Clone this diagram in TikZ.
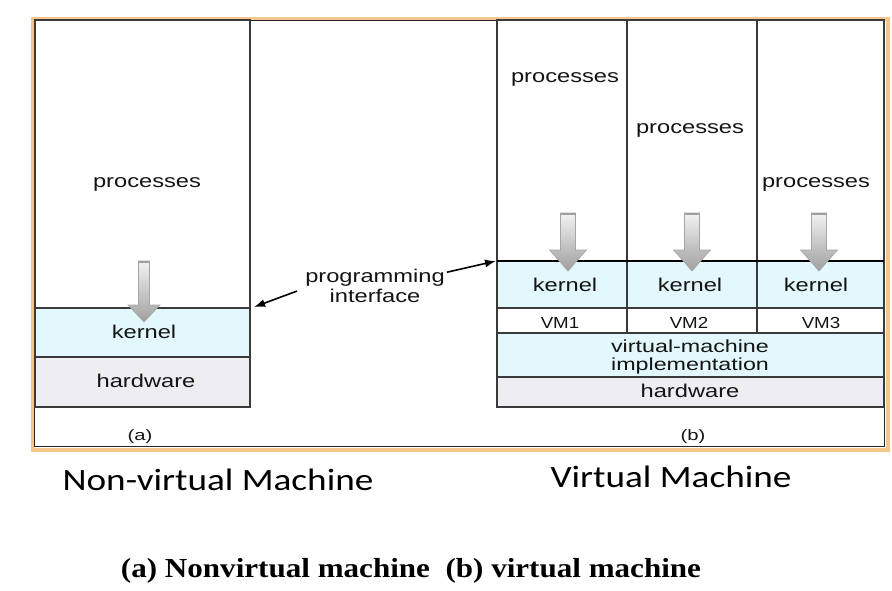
\documentclass[tikz,border=0pt]{standalone}
\usepackage{graphicx}
\usepackage{fontspec}
\setmainfont{Liberation Sans}
\newfontfamily\capfont{Carlito}
\newfontfamily\serifcap{Liberation Serif}
\usetikzlibrary{arrows.meta}
\definecolor{kern}{HTML}{E2F8FC}
\definecolor{hw}{HTML}{EEEEF2}
\definecolor{frameorange}{HTML}{F5C68C}
\definecolor{edge}{HTML}{3A3A3A}
\newcommand\wide[1]{\scalebox{1.28}[1]{#1}}
\newcommand\fatarr[7]{% name, cx, ytop, yhead, ytip, half shaft, half head
  \path[fatstyle] (#2-#6,#3) -- (#2+#6,#3) -- (#2+#6,#4) -- (#2+#7,#4) -- (#2,#5)
     -- (#2-#7,#4) -- (#2-#6,#4) -- cycle;
  \draw[line width=2pt, gray!75] (#2-#6,#3+1) -- (#2+#6,#3+1);
  \coordinate (#1) at (#2,#5);}
\tikzset{
  box/.style={draw=edge, line width=1.5pt, anchor=north west, inner sep=0pt, outer sep=0pt},
  lbl/.style={font=\fontsize{18.5}{15}\selectfont, inner sep=0pt, anchor=base, text=black!92},
  vmlbl/.style={font=\fontsize{16}{18}\selectfont, inner sep=0pt, anchor=base, text=black!92},
  fatstyle/.style={draw=gray!70, line width=0.6pt, top color=gray!10, bottom color=gray!75},
  ptr/.style={-{Latex[length=11pt,width=8pt]}, line width=1.6pt, black}
}
\begin{document}
\begin{tikzpicture}[x=1pt,y=-1pt]
\useasboundingbox (0,0) rectangle (892,590);
% frame
\node[draw=frameorange, line width=4pt, anchor=north west, minimum width=855pt, minimum height=431pt, inner sep=0pt] (frameo) at (31,17) {};
\node[draw=black!85, line width=1.5pt, anchor=north west, minimum width=850pt, minimum height=426pt, inner sep=0pt] (framei) at (33.5,19.5) {};
% left stack
\node[box, minimum width=215pt, minimum height=288pt] (lp) at (35,20) {};
\node[box, fill=kern, minimum width=215pt, minimum height=49pt] (lk) at (35,308) {};
\node[box, fill=hw, minimum width=215pt, minimum height=50pt] (lh) at (35,357) {};
\node[lbl] (lpt) at (147,187) {\wide{processes}};
\node[lbl] (lkt) at (144,338) {\wide{kernel}};
\node[lbl] (lht) at (146,387) {\wide{hardware}};
% right stack
\node[box, minimum width=130pt, minimum height=241pt] (p1) at (497,20) {};
\node[box, minimum width=130pt, minimum height=241pt] (p2) at (627,20) {};
\node[box, minimum width=127pt, minimum height=241pt] (p3) at (757,20) {};
\node[lbl] (p1t) at (565,82) {\wide{processes}};
\node[lbl] (p2t) at (690,133) {\wide{processes}};
\node[lbl] (p3t) at (816,187) {\wide{processes}};
\node[box, fill=kern, minimum width=130pt, minimum height=47pt] (k1) at (497,261) {};
\node[box, fill=kern, minimum width=130pt, minimum height=47pt] (k2) at (627,261) {};
\node[box, fill=kern, minimum width=127pt, minimum height=47pt] (k3) at (757,261) {};
\draw[line width=2.5pt, black] (k1.north west) -- (k3.north east);
\node[lbl] (k1t) at (565,291) {\wide{kernel}};
\node[lbl] (k2t) at (690,291) {\wide{kernel}};
\node[lbl] (k3t) at (816,291) {\wide{kernel}};
\node[box, minimum width=130pt, minimum height=25pt] (v1) at (497,308) {};
\node[box, minimum width=130pt, minimum height=25pt] (v2) at (627,308) {};
\node[box, minimum width=127pt, minimum height=25pt] (v3) at (757,308) {};
\node[vmlbl] (v1t) at (560,328) {\scalebox{1.17}[1]{VM1}};
\node[vmlbl] (v2t) at (689,328) {\scalebox{1.17}[1]{VM2}};
\node[vmlbl] (v3t) at (821,328) {\scalebox{1.17}[1]{VM3}};
\node[box, fill=kern, minimum width=387pt, minimum height=44pt] (impl) at (497,333) {};
\node[lbl, font=\fontsize{17.5}{15}\selectfont] (it1) at (690,352) {\scalebox{1.33}[1]{virtual-machine}};
\node[lbl, font=\fontsize{17.5}{15}\selectfont] (it2) at (690,370) {\scalebox{1.33}[1]{implementation}};
\node[box, fill=hw, minimum width=387pt, minimum height=30pt] (rh) at (497,377) {};
\node[lbl] (rht) at (690,397) {\wide{hardware}};
% fat arrows
\fatarr{la}{144}{261}{305}{322}{5.5}{16}
\fatarr{a1}{568}{213}{250}{271}{7.5}{18.5}
\fatarr{a2}{692}{213}{250}{271}{7.5}{18.5}
\fatarr{a3}{819}{213}{250}{271}{7.5}{18.5}
% programming interface
\node[lbl] (pg) at (375,282) {\wide{programming}};
\node[lbl] (pif) at (375,302) {\wide{interface}};
\coordinate (pl) at (254,307);
\coordinate (pr) at (496,261);
\draw[ptr] ([xshift=-8pt,yshift=-5pt]pg.south west) -- (pl);
\draw[ptr] ([xshift=2pt,yshift=5pt]pg.east) -- (pr);
% sub labels
\node[lbl, font=\fontsize{15}{18}\selectfont] (la2) at (140,440) {\scalebox{1.35}[1]{(a)}};
\node[lbl, font=\fontsize{15}{18}\selectfont] (lb2) at (693,440) {\scalebox{1.35}[1]{(b)}};
\node[lbl, text=black, font=\capfont\fontsize{31}{34}\selectfont] (nvm) at (218,490) {\scalebox{1.2}[1]{Non-virtual Machine}};
\node[lbl, text=black, font=\capfont\fontsize{31}{34}\selectfont] (vm) at (671,487) {\scalebox{1.2}[1]{Virtual Machine}};
\node[lbl, text=black, font=\serifcap\bfseries\fontsize{27.5}{32}\selectfont] (cap) at (411,577) {\scalebox{1.13}[1]{(a) Nonvirtual machine\ \ (b) virtual machine}};
\end{tikzpicture}
\end{document}
